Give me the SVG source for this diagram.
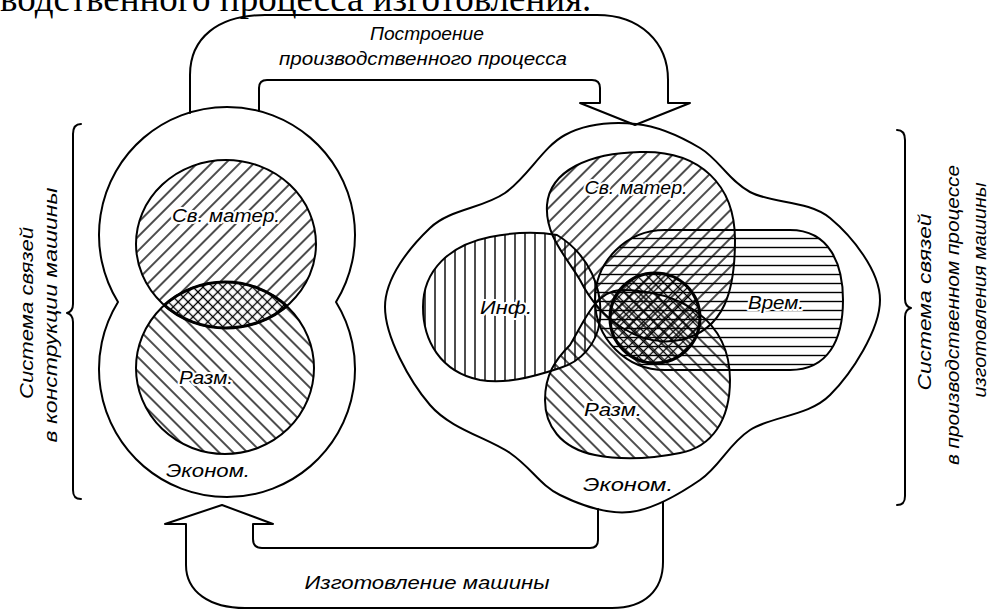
<svg xmlns="http://www.w3.org/2000/svg" width="990" height="612" viewBox="0 0 990 612">
<style>
.o{fill:none;stroke:#000;stroke-width:2;stroke-linejoin:round;stroke-linecap:round}
.b{fill:none;stroke:#000;stroke-width:3;stroke-linejoin:round}
.t{font-family:"Liberation Sans","DejaVu Sans",Arial,sans-serif;font-style:italic;font-size:19px;fill:#000;text-anchor:middle;stroke:#fff;stroke-width:4;paint-order:stroke;stroke-linejoin:round}
.r{font-family:"Liberation Sans","DejaVu Sans",Arial,sans-serif;font-style:italic;font-size:19px;fill:#000;text-anchor:middle}
.h{font-family:"Liberation Serif","Times New Roman",serif;font-size:37px;fill:#000}
</style>
<defs>
<pattern id="pD" width="10" height="10" patternUnits="userSpaceOnUse" patternTransform="rotate(-45)"><line x1="0" y1="5" x2="10" y2="5" stroke="#000" stroke-width="1.4"/></pattern>
<pattern id="pB" width="10" height="10" patternUnits="userSpaceOnUse" patternTransform="rotate(45)"><line x1="0" y1="5" x2="10" y2="5" stroke="#000" stroke-width="1.4"/></pattern>
<pattern id="pV" width="10" height="10" patternUnits="userSpaceOnUse"><line x1="5" y1="0" x2="5" y2="10" stroke="#000" stroke-width="1.4"/></pattern>
<pattern id="pH" width="9" height="9" patternUnits="userSpaceOnUse"><line x1="0" y1="4.5" x2="9" y2="4.5" stroke="#000" stroke-width="1.4"/></pattern>
<pattern id="pX" width="7" height="7" patternUnits="userSpaceOnUse" patternTransform="rotate(45)"><line x1="0" y1="3.5" x2="7" y2="3.5" stroke="#000" stroke-width="1.3"/><line x1="3.5" y1="0" x2="3.5" y2="7" stroke="#000" stroke-width="1.3"/></pattern>
<clipPath id="cLow"><ellipse cx="225" cy="368" rx="89" ry="86"/></clipPath>
<clipPath id="cUp"><ellipse cx="226" cy="244" rx="90" ry="84"/></clipPath>
</defs>
<rect width="990" height="612" fill="#fff"/>

<g id="header">
<text class="h" x="0" y="11">водственного процесса изготовления.</text>
</g>

<g id="left-system">
<path class="o" d="M118,302 A128,128 0 1 1 336,302 A128,128 0 1 1 118,302 Z"/>
<ellipse cx="226" cy="244" rx="90" ry="84" fill="url(#pD)"/>
<ellipse cx="225" cy="368" rx="89" ry="86" fill="url(#pB)"/>
<g clip-path="url(#cLow)">
<ellipse cx="226" cy="244" rx="90" ry="84" fill="#fff"/>
<ellipse cx="226" cy="244" rx="90" ry="84" fill="url(#pX)"/>
</g>
<ellipse class="o" cx="226" cy="244" rx="90" ry="84"/>
<ellipse class="o" cx="225" cy="368" rx="89" ry="86"/>
<ellipse class="b" cx="226" cy="244" rx="90" ry="84" clip-path="url(#cLow)"/>
<ellipse class="b" cx="225" cy="368" rx="89" ry="86" clip-path="url(#cUp)"/>
<text class="t" x="226" y="222" textLength="108" lengthAdjust="spacingAndGlyphs">Св. матер.</text>
<text class="t" x="206" y="384" textLength="54" lengthAdjust="spacingAndGlyphs">Разм.</text>
<text class="t" x="208" y="477" textLength="84" lengthAdjust="spacingAndGlyphs">Эконом.</text>
</g>

<g id="right-system">
<path class="o" d="M636,124 C658.5,126.2 681,136.7 700,148 C719,159.3 728.3,180.3 750,192 C771.7,203.7 808.3,200 830,218 C851.7,236 880,270.5 880,300 C880,329.5 851.7,373.3 830,395 C808.3,416.7 771.7,415.8 750,430 C728.3,444.2 720,466.3 700,480 C680,493.7 653.3,509.5 630,512 C606.7,514.5 580,504.8 560,495 C540,485.2 531.7,468 510,453 C488.3,438 450.8,429.3 430,405 C409.2,380.7 385,336.5 385,307 C385,277.5 410,247 430,228 C450,209 482.5,208.5 505,193 C527.5,177.5 543.2,146.5 565,135 C586.8,123.5 613.5,121.8 636,124 Z"/>
<path id="blobSv" d="M640,152 C700,150 735,185 735,240 C735,290 725,330 680,340 C640,348 600,320 580,280 C565,255 545,235 547,205 C550,170 590,153 640,152 Z" fill="url(#pD)"/>
<path id="blobInf" d="M557,235 C590,255 603,290 600,320 C597,345 580,362 560,368 C530,378 505,384 480,380 C440,372 423,340 423,307 C423,270 450,245 490,237 C515,232 540,232 557,235 Z" fill="url(#pV)"/>
<path id="blobVr" d="M665,230 L790,230 C830,230 843,265 843,300 C843,340 828,370 790,370 L665,370 A70,70 0 0 1 665,230 Z" fill="url(#pH)"/>
<path id="blobRz" d="M620,290 C680,290 730,320 730,380 C730,420 712,447 680,453 C650,459 620,460 595,455 C560,448 545,425 545,400 C545,375 555,360 570,345 C585,320 595,292 620,290 Z" fill="url(#pB)"/>
<circle cx="655" cy="318" r="45" fill="url(#pX)"/>
<path class="o" d="M640,152 C700,150 735,185 735,240 C735,290 725,330 680,340 C640,348 600,320 580,280 C565,255 545,235 547,205 C550,170 590,153 640,152 Z"/>
<path class="o" d="M557,235 C590,255 603,290 600,320 C597,345 580,362 560,368 C530,378 505,384 480,380 C440,372 423,340 423,307 C423,270 450,245 490,237 C515,232 540,232 557,235 Z"/>
<path class="o" d="M665,230 L790,230 C830,230 843,265 843,300 C843,340 828,370 790,370 L665,370 A70,70 0 0 1 665,230 Z"/>
<path class="o" d="M620,290 C680,290 730,320 730,380 C730,420 712,447 680,453 C650,459 620,460 595,455 C560,448 545,425 545,400 C545,375 555,360 570,345 C585,320 595,292 620,290 Z"/>
<circle class="b" cx="655" cy="318" r="45"/>
<text class="t" x="636" y="194" textLength="103" lengthAdjust="spacingAndGlyphs">Св. матер.</text>
<text class="t" x="506" y="314" textLength="52" lengthAdjust="spacingAndGlyphs">Инф.</text>
<text class="t" x="776" y="309" textLength="56" lengthAdjust="spacingAndGlyphs">Врем.</text>
<text class="t" x="613" y="416" textLength="58" lengthAdjust="spacingAndGlyphs">Разм.</text>
<text class="t" x="628" y="491" textLength="90" lengthAdjust="spacingAndGlyphs">Эконом.</text>
</g>

<g id="connectors">
<path class="o" d="M190,113 L190,75 C190,38 218,15 265,15 L597,15 C640,15 668,42 668,80 L668,103 L690,103 L635,125 L580,103 L600,103 L600,88 C600,83 597,80 592,80 L267,80 C262,80 259,83 259,88 L259,111"/>
<path class="o" d="M663,502 L663,562 C663,590 645,608 612,608 L245,608 C210,608 186,592 186,565 L186,524 L165,524 L222,505 L273,524 L253,524 L253,539 C253,545 256,548 262,548 L590,548 C595,548 598,545 598,540 L598,509"/>
<text class="r" x="427" y="40" textLength="114" lengthAdjust="spacingAndGlyphs">Построение</text>
<text class="r" x="423" y="65" textLength="288" lengthAdjust="spacingAndGlyphs">производственного процесса</text>
<text class="r" x="427" y="589" textLength="245" lengthAdjust="spacingAndGlyphs">Изготовление машины</text>
</g>

<g id="brace-left">
<path class="o" d="M81,124 C75,124 73,128 73,134 L73,304 C73,309 71,312 67,313 C71,314 73,317 73,322 L73,490 C73,496 75,499 81,499"/>
<text class="r" transform="translate(33,313) rotate(-90)" textLength="172" lengthAdjust="spacingAndGlyphs">Система связей</text>
<text class="r" transform="translate(57,315) rotate(-90)" textLength="255" lengthAdjust="spacingAndGlyphs">в конструкции машины</text>
</g>

<g id="brace-right">
<path class="o" d="M897,130 C903,130 905,134 905,140 L905,299 C905,304 907,307 911,308 C907,309 905,312 905,317 L905,496 C905,502 903,505 897,505"/>
<text class="r" transform="translate(931,302) rotate(-90)" textLength="177" lengthAdjust="spacingAndGlyphs">Система связей</text>
<text class="r" transform="translate(959,315) rotate(-90)" textLength="300" lengthAdjust="spacingAndGlyphs">в производственном процессе</text>
<text class="r" transform="translate(986,290) rotate(-90)" textLength="215" lengthAdjust="spacingAndGlyphs">изготовления машины</text>
</g>
</svg>
